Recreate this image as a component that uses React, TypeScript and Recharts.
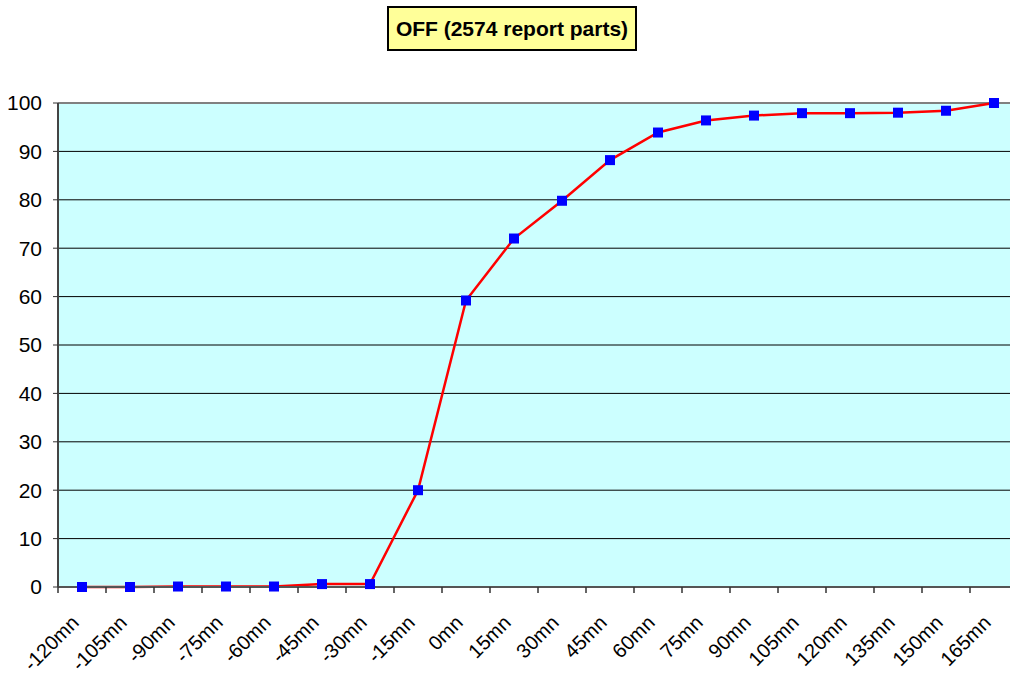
import React from 'react';
import { LineChart, Line, XAxis, YAxis, CartesianGrid, ReferenceLine } from 'recharts';

// offsets in minutes and cumulative % of report parts
const CATEGORIES = [
  '-120mn', '-105mn', '-90mn', '-75mn', '-60mn', '-45mn', '-30mn', '-15mn', '0mn', '15mn',
  '30mn', '45mn', '60mn', '75mn', '90mn', '105mn', '120mn', '135mn', '150mn', '165mn',
];
const VALUES = [0, 0, 0.1, 0.1, 0.1, 0.6, 0.6, 20, 59.2, 72, 79.8, 88.2, 93.9, 96.4, 97.4, 97.9, 97.9, 98, 98.4, 100];
const Y_TICKS = [0, 10, 20, 30, 40, 50, 60, 70, 80, 90, 100];

const TITLE = 'OFF (2574 report parts)';

const data = CATEGORIES.map((name, i) => ({ name, value: VALUES[i] }));

const W = 1011;
const H = 675;
const PLOT_LEFT = 58;
const PLOT_RIGHT = 1010;
// the original plot runs a little past the right edge of the picture
const STEP = 48;
const PAD_LEFT = STEP / 2;
const PAD_RIGHT = PLOT_RIGHT - PLOT_LEFT - PAD_LEFT - STEP * (CATEGORIES.length - 1);
const FONT = 'Arial, "Liberation Sans", sans-serif';

const XTick = ({ x, y, index, payload }: any) => {
  const lx = x - 2;
  const ly = y + 37;
  return (
    <g>
      <line x1={x - STEP / 2} y1={y} x2={x - STEP / 2} y2={y + 6} stroke="#333" strokeWidth={1.5} />
      {index === CATEGORIES.length - 1 && (
        <line x1={x + STEP / 2} y1={y} x2={x + STEP / 2} y2={y + 6} stroke="#333" strokeWidth={1.5} />
      )}
      <text
        x={lx}
        y={ly}
        textAnchor="end"
        fontSize={20}
        fontFamily={FONT}
        fill="#000"
        transform={`rotate(-45, ${lx}, ${ly})`}
      >
        {payload.value}
      </text>
    </g>
  );
};

const SquareDot = ({ cx, cy, index }: any) => (
  <rect key={`dot-${index}`} x={cx - 5} y={cy - 5} width={10} height={10} fill="#0000FF" />
);

export default function App() {
  return (
    <div style={{ position: 'absolute', left: 0, top: 0, width: W, height: H, background: '#fff', fontFamily: FONT }}>
      <div
        style={{
          position: 'absolute',
          left: 387,
          top: 6,
          width: 246,
          height: 41,
          background: '#FFFF99',
          border: '2px solid #000',
          display: 'flex',
          alignItems: 'center',
          justifyContent: 'center',
          fontWeight: 'bold',
          fontSize: 21,
          color: '#000',
        }}
      >
        {TITLE}
      </div>
      <LineChart
        width={W}
        height={H}
        data={data}
        margin={{ top: 103, right: W - PLOT_RIGHT, bottom: 0, left: 0 }}
      >
        <CartesianGrid fill="#CCFFFF" vertical={false} stroke="#000" strokeOpacity={1} />
        <XAxis
          dataKey="name"
          height={88}
          interval={0}
          padding={{ left: PAD_LEFT, right: PAD_RIGHT }}
          tickLine={false}
          tickSize={0}
          tickMargin={0}
          axisLine={{ stroke: '#555', strokeWidth: 2 }}
          tick={<XTick />}
        />
        <YAxis
          width={PLOT_LEFT}
          domain={[0, 100]}
          ticks={Y_TICKS}
          interval={0}
          tickSize={5}
          tickMargin={11}
          tickLine={{ stroke: '#333' }}
          axisLine={{ stroke: '#444', strokeWidth: 2 }}
          tick={{ fill: '#000', fontSize: 21, fontFamily: FONT }}
        />
        <ReferenceLine y={100} stroke="#808080" strokeWidth={2} />
        <Line
          type="linear"
          dataKey="value"
          stroke="#FF0000"
          strokeWidth={2.5}
          dot={<SquareDot />}
          activeDot={false}
          isAnimationActive={false}
        />
      </LineChart>
    </div>
  );
}
